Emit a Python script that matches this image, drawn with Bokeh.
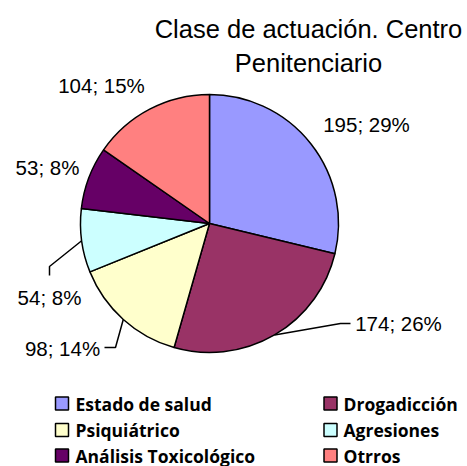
import math
from bokeh.plotting import figure
from bokeh.models import Range1d, ColumnDataSource
from bokeh.core.properties import value
from bokeh.embed import file_html
from bokeh.resources import INLINE

# ---- data ----
title_lines = ["Clase de actuación. Centro", "Penitenciario"]
categories = ["Estado de salud", "Drogadicción", "Psiquiátrico", "Agresiones",
              "Análisis Toxicológico", "Otrros"]
counts = [195, 174, 98, 54, 53, 104]
palette = ["#9999FF", "#993366", "#FFFFCC", "#CCFFFF", "#660066", "#FF8080"]

# ---- layout (image pixel coords, y downward) ----
W, H = 467, 466


def Y(py):
    return H - py


CX, CY, R = 209, Y(223), 129
label_pos = [(366, 124), (398, 323), (62, 348), (49, 297), (47, 167), (101, 85)]
leader_elbows = {1: [(340, 323), (350, 323)],
                 2: [(115, 347), (104, 347)],
                 3: [(49, 266), (49, 275)]}
legend_sq_x = [61.5, 330]
legend_txt_x = [75, 343]
legend_row_y = [403, 429.5, 455]

p = figure(width=W, height=H, output_backend="svg", toolbar_location=None,
           x_range=Range1d(0, W), y_range=Range1d(0, H),
           x_axis_type=None, y_axis_type=None, min_border=0,
           outline_line_color=None)
p.grid.visible = False

total = sum(counts)
starts, ends, mids = [], [], []
c = 0
for v in counts:
    c0 = c / total
    c += v
    c1 = c / total
    starts.append(math.pi / 2 - 2 * math.pi * c1)
    ends.append(math.pi / 2 - 2 * math.pi * c0)
    mids.append(math.pi / 2 - 2 * math.pi * (c0 + c1) / 2)

src = ColumnDataSource(dict(start=starts, end=ends, color=palette))
p.wedge(x=CX, y=CY, radius=R, start_angle="start", end_angle="end",
        fill_color="color", line_color="black", line_width=1.5, source=src)

# leader lines
for i, pts in leader_elbows.items():
    xs = [CX + R * math.cos(mids[i])] + [q[0] for q in pts]
    ys = [CY + R * math.sin(mids[i])] + [Y(q[1]) for q in pts]
    p.line(xs, ys, line_color="black", line_width=1.5)

labels = [f"{v}; {round(100 * v / total)}%" for v in counts]
p.text(x=[q[0] for q in label_pos], y=[Y(q[1]) for q in label_pos], text=labels,
       text_font=value("Liberation Sans"), text_font_size="20.5px",
       text_align="center", text_baseline="middle", text_color="black")

# title
p.text(x=[308, 308], y=[Y(28), Y(62)], text=title_lines,
       text_font=value("Liberation Sans"), text_font_size="25.5px",
       text_align="center", text_baseline="middle", text_color="black")

# legend
lx, ly, tx = [], [], []
for i in range(len(categories)):
    row, col = divmod(i, 2)
    lx.append(legend_sq_x[col])
    ly.append(Y(legend_row_y[row]))
    tx.append(legend_txt_x[col])
p.rect(x=lx, y=ly, width=13, height=13, fill_color=palette,
       line_color="black", line_width=1.5)
p.text(x=tx, y=ly, text=categories, text_font=value("Open Sans"),
       text_font_style="bold", text_font_size="17.5px",
       text_align="left", text_baseline="middle", text_color="black")

open("out.html", "w").write(file_html(p, INLINE))
